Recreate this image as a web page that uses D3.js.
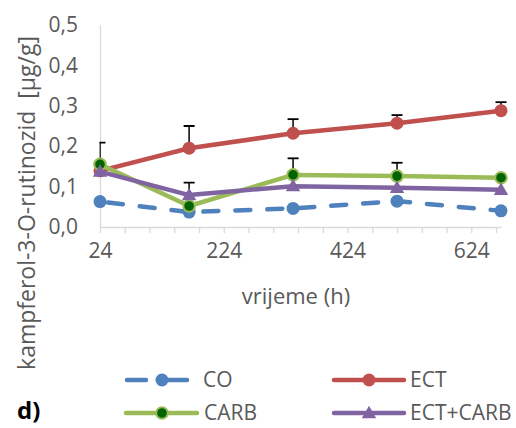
<!DOCTYPE html>
<html>
<head>
<meta charset="utf-8">
<script src="https://cdn.jsdelivr.net/npm/d3@7/dist/d3.min.js"></script>
<style>
  html, body { margin: 0; padding: 0; background: #ffffff; }
  svg { display: block; font-family: "Open Sans", sans-serif; }
</style>
</head>
<body>
<svg id="chart" width="516" height="428"></svg>
<script>
// ---- data ----
const hours = [24, 168, 336, 504, 672];
const xTickLabels = [24, 224, 424, 624];
const yTickLabels = [0, 0.1, 0.2, 0.3, 0.4, 0.5];
const seriesNames = ["CO", "ECT", "CARB", "ECT+CARB"];
const coValues      = [0.063, 0.037, 0.046, 0.064, 0.040];
const ectValues     = [0.139, 0.195, 0.232, 0.257, 0.288];
const carbValues    = [0.155, 0.052, 0.129, 0.126, 0.122];
const ectCarbValues = [0.137, 0.079, 0.101, 0.097, 0.092];
// upward error bars (null = none visible)
const coErr      = [null, null, null, null, null];
const ectErr     = [null, 0.055, 0.035, 0.020, 0.021];
const carbErr    = [0.054, null, 0.041, 0.033, null];
const ectCarbErr = [null, 0.031, null, null, null];

const colors = { "CO": "#4f81bd", "ECT": "#c0504d", "CARB": "#9bbb59", "ECT+CARB": "#8064a2" };

const series = [
  { name: "CO", values: coValues, err: coErr, marker: "circle", dashed: true },
  { name: "ECT", values: ectValues, err: ectErr, marker: "circle" },
  { name: "CARB", values: carbValues, err: carbErr, marker: "greencircle" },
  { name: "ECT+CARB", values: ectCarbValues, err: ectCarbErr, marker: "triangle" }
];

const svg = d3.select("#chart");
const x = d3.scaleLinear().domain([24, 672]).range([100, 501]);
const y = d3.scaleLinear().domain([0, 0.5]).range([227, 25]);
const fmt = v => d3.format(".1f")(v).replace(".", ",");

// clip for error bars
svg.append("defs").append("clipPath").attr("id", "plotclip")
  .append("rect").attr("x", 99.5).attr("y", 0).attr("width", 420).attr("height", 240);

// y axis
const yAxis = d3.axisLeft(y).tickValues(yTickLabels).tickFormat(fmt).tickSize(0).tickPadding(22);
const gy = svg.append("g").attr("transform", "translate(100,0)").call(yAxis);
gy.select(".domain").attr("stroke", "#d9d9d9").attr("stroke-width", 1.3);
gy.selectAll("text").attr("fill", "#595959").style("font-size", "21px").attr("font-family", "Open Sans");

// x axis
const minorTicks = d3.range(24, 672, 40);
const gxm = svg.append("g").attr("transform", "translate(0,227)")
  .call(d3.axisBottom(x).tickValues(minorTicks).tickFormat("").tickSize(6).tickSizeOuter(0));
gxm.select(".domain").attr("stroke", "#d9d9d9").attr("stroke-width", 1.3);
gxm.selectAll(".tick line").attr("stroke", "#d9d9d9").attr("stroke-width", 1.3);
const gx = svg.append("g").attr("transform", "translate(0,227)")
  .call(d3.axisBottom(x).tickValues(xTickLabels).tickFormat(d => d).tickSize(0).tickPadding(16));
gx.select(".domain").remove();
gx.selectAll("text").attr("fill", "#595959").style("font-size", "21px").attr("font-family", "Open Sans");

// axis titles
svg.append("text").attr("x", 296).attr("y", 304).attr("text-anchor", "middle")
  .attr("fill", "#595959").style("font-size", "22px").text("vrijeme (h)");
svg.append("text").attr("transform", "translate(35,203) rotate(-90)").attr("text-anchor", "middle")
  .attr("fill", "#595959").style("font-size", "23px").style("white-space", "pre")
  .text("kampferol-3-O-rutinozid  [µg/g]");

const line = d3.line().x((d, i) => x(hours[i])).y(d => y(d));
const tri = d3.symbol().type(d3.symbolTriangle).size(90);

function drawMarker(g, type, cx, cy, color) {
  if (type === "circle") {
    g.append("circle").attr("cx", cx).attr("cy", cy).attr("r", 6.5).attr("fill", color);
  } else if (type === "greencircle") {
    g.append("circle").attr("cx", cx).attr("cy", cy).attr("r", 5.8)
      .attr("fill", "#006400").attr("stroke", color).attr("stroke-width", 2);
  } else {
    g.append("path").attr("d", tri).attr("transform", `translate(${cx},${cy + 1})`).attr("fill", color);
  }
}

series.forEach(s => {
  const g = svg.append("g");
  const c = colors[s.name];
  g.append("path").attr("d", line(s.values)).attr("fill", "none").attr("stroke", c)
    .attr("stroke-width", 4.5).attr("stroke-linejoin", "round")
    .attr("stroke-linecap", s.dashed ? "round" : "butt")
    .attr("stroke-dasharray", s.dashed ? "15,17" : null)
    .attr("stroke-dashoffset", s.dashed ? -8 : null);
  const eg = g.append("g").attr("clip-path", "url(#plotclip)");
  s.values.forEach((v, i) => {
    if (s.err[i] == null) return;
    const cx = x(hours[i]);
    eg.append("line").attr("x1", cx).attr("x2", cx).attr("y1", y(v)).attr("y2", y(v + s.err[i]))
      .attr("stroke", "#000").attr("stroke-width", 1.5);
    eg.append("line").attr("x1", cx - 5.5).attr("x2", cx + 5.5).attr("y1", y(v + s.err[i])).attr("y2", y(v + s.err[i]))
      .attr("stroke", "#000").attr("stroke-width", 1.8);
  });
  s.values.forEach((v, i) => drawMarker(g, s.marker, x(hours[i]), y(v), c));
});

// legend
const legendPos = [
  { name: "CO", x1: 126, x2: 188, mx: 162, tx: 203, cy: 380 },
  { name: "ECT", x1: 334, x2: 404, mx: 369, tx: 410, cy: 380 },
  { name: "CARB", x1: 126, x2: 197, mx: 162, tx: 204, cy: 413 },
  { name: "ECT+CARB", x1: 334, x2: 404, mx: 369, tx: 410, cy: 413 }
];
legendPos.forEach(p => {
  const s = series.find(d => d.name === p.name);
  const c = colors[p.name];
  const g = svg.append("g");
  if (s.dashed) {
    g.append("line").attr("x1", p.x1 + 1).attr("x2", 146).attr("y1", p.cy).attr("y2", p.cy)
      .attr("stroke", c).attr("stroke-width", 4.5).attr("stroke-linecap", "round");
    g.append("line").attr("x1", p.mx).attr("x2", p.x2 - 1).attr("y1", p.cy).attr("y2", p.cy)
      .attr("stroke", c).attr("stroke-width", 4.5).attr("stroke-linecap", "round");
  } else {
    g.append("line").attr("x1", p.x1).attr("x2", p.x2).attr("y1", p.cy).attr("y2", p.cy)
      .attr("stroke", c).attr("stroke-width", 4.5).attr("stroke-linecap", "round");
  }
  drawMarker(g, s.marker, p.mx, p.cy, c);
  g.append("text").attr("x", p.tx).attr("y", p.cy).attr("dy", "0.35em")
    .attr("fill", "#595959").style("font-size", "21px").text(p.name);
});

svg.append("text").attr("x", 17).attr("y", 419).attr("fill", "#000")
  .style("font-size", "24px").style("font-weight", "bold").text("d)");
</script>
</body>
</html>
